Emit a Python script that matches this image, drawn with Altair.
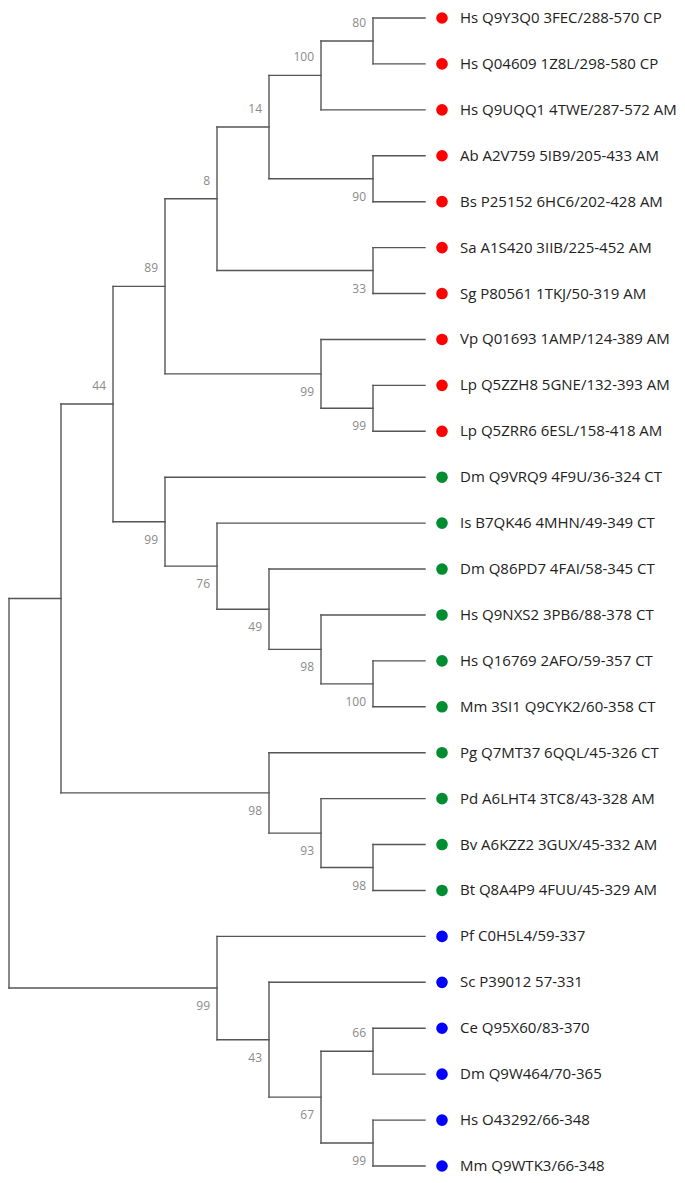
import altair as alt
import pandas as pd

# ---- data -------------------------------------------------------------
leaf_names = [
    "Hs Q9Y3Q0 3FEC/288-570 CP",
    "Hs Q04609 1Z8L/298-580 CP",
    "Hs Q9UQQ1 4TWE/287-572 AM",
    "Ab A2V759 5IB9/205-433 AM",
    "Bs P25152 6HC6/202-428 AM",
    "Sa A1S420 3IIB/225-452 AM",
    "Sg P80561 1TKJ/50-319 AM",
    "Vp Q01693 1AMP/124-389 AM",
    "Lp Q5ZZH8 5GNE/132-393 AM",
    "Lp Q5ZRR6 6ESL/158-418 AM",
    "Dm Q9VRQ9 4F9U/36-324 CT",
    "Is B7QK46 4MHN/49-349 CT",
    "Dm Q86PD7 4FAI/58-345 CT",
    "Hs Q9NXS2 3PB6/88-378 CT",
    "Hs Q16769 2AFO/59-357 CT",
    "Mm 3SI1 Q9CYK2/60-358 CT",
    "Pg Q7MT37 6QQL/45-326 CT",
    "Pd A6LHT4 3TC8/43-328 AM",
    "Bv A6KZZ2 3GUX/45-332 AM",
    "Bt Q8A4P9 4FUU/45-329 AM",
    "Pf C0H5L4/59-337",
    "Sc P39012 57-331",
    "Ce Q95X60/83-370",
    "Dm Q9W464/70-365",
    "Hs O43292/66-348",
    "Mm Q9WTK3/66-348",
]
leaf_groups = ["red"] * 10 + ["green"] * 10 + ["blue"] * 6
group_names = ["red", "green", "blue"]
group_colors = ["#ff0000", "#008c30", "#0000ff"]

# topology (leaf indices) with bootstrap support values
newick = ("((((((((0,1)80,2)100,(3,4)90)14,(5,6)33)8,(7,(8,9)99)99)89,"
          "(10,(11,(12,(13,(14,15)100)98)49)76)99)44,(16,(17,(18,19)98)93)98),"
          "(20,(21,((22,23)66,(24,25)99)67)43)99);")


# ---- tree parsing / layout ---------------------------------------------
def parse(s):
    pos = 0

    def node():
        nonlocal pos
        if s[pos] == "(":
            pos += 1
            children = [node()]
            while s[pos] == ",":
                pos += 1
                children.append(node())
            pos += 1  # ')'
            lab = ""
            while pos < len(s) and s[pos] not in ",);":
                lab += s[pos]
                pos += 1
            return {"children": children, "label": lab}
        lab = ""
        while s[pos] not in ",)":
            lab += s[pos]
            pos += 1
        return {"leaf": int(lab)}

    return node()


root = parse(newick)


def height(n):
    if "leaf" in n:
        n["h"] = 0
    else:
        n["h"] = 1 + max(height(c) for c in n["children"])
    return n["h"]


max_h = height(root)


def place(n):
    n["lx"] = max_h - n["h"]
    if "leaf" in n:
        n["ly"] = n["leaf"]
    else:
        for c in n["children"]:
            place(c)
        n["ly"] = (n["children"][0]["ly"] + n["children"][-1]["ly"]) / 2


place(root)

segs = []
supports = []


def walk(n, parent=None, first=True):
    if parent is not None:
        segs.append({"x1": parent["lx"], "x2": n["lx"], "y1": n["ly"], "y2": n["ly"]})
    if "children" in n:
        segs.append({"x1": n["lx"], "x2": n["lx"],
                     "y1": n["children"][0]["ly"], "y2": n["children"][-1]["ly"]})
        if n["label"] and parent is not None:
            supports.append({"x": n["lx"], "y": n["ly"], "label": n["label"],
                             "side": "above" if first else "below"})
        for i, c in enumerate(n["children"]):
            walk(c, n, i == 0)


walk(root)

seg_df = pd.DataFrame(segs)
sup_df = pd.DataFrame(supports)
leaf_df = pd.DataFrame({"x": [max_h] * len(leaf_names),
                        "y": list(range(len(leaf_names))),
                        "name": leaf_names, "group": leaf_groups})

xs = alt.Scale(domain=[0, max_h], range=[1, 417])
ys = alt.Scale(domain=[0, len(leaf_names) - 1], range=[10, 1158])
X = lambda f: alt.X(f, type="quantitative", scale=xs, axis=None)
Y = lambda f: alt.Y(f, type="quantitative", scale=ys, axis=None)

lines = alt.Chart(seg_df).mark_rule(color="#555555", strokeWidth=1.4, strokeCap="square").encode(
    x=X("x1"), x2="x2", y=Y("y1"), y2="y2")

sup_font = dict(font="Open Sans", fontSize=12, color="#8a8a8a", align="right", baseline="middle")
sup_above = alt.Chart(sup_df).transform_filter(alt.datum.side == "above").mark_text(
    dx=-7, dy=-18, **sup_font).encode(x=X("x"), y=Y("y"), text="label:N")
sup_below = alt.Chart(sup_df).transform_filter(alt.datum.side == "below").mark_text(
    dx=-7, dy=18, **sup_font).encode(x=X("x"), y=Y("y"), text="label:N")

dots = alt.Chart(leaf_df).mark_circle(size=135, opacity=1, xOffset=17).encode(
    x=X("x"), y=Y("y"),
    color=alt.Color("group:N", scale=alt.Scale(domain=group_names, range=group_colors), legend=None))

names = alt.Chart(leaf_df).mark_text(
    align="left", baseline="middle", dx=35, font="Open Sans", fontSize=15, color="#222222").encode(
    x=X("x"), y=Y("y"), text="name:N")

chart = alt.layer(lines, sup_above, sup_below, dots, names).properties(
    width=669, height=1167, autosize=alt.AutoSizeParams(type="none"), padding=0
).configure_view(stroke=None)

chart.save("out.html", embed_options={"renderer": "svg", "actions": False})
